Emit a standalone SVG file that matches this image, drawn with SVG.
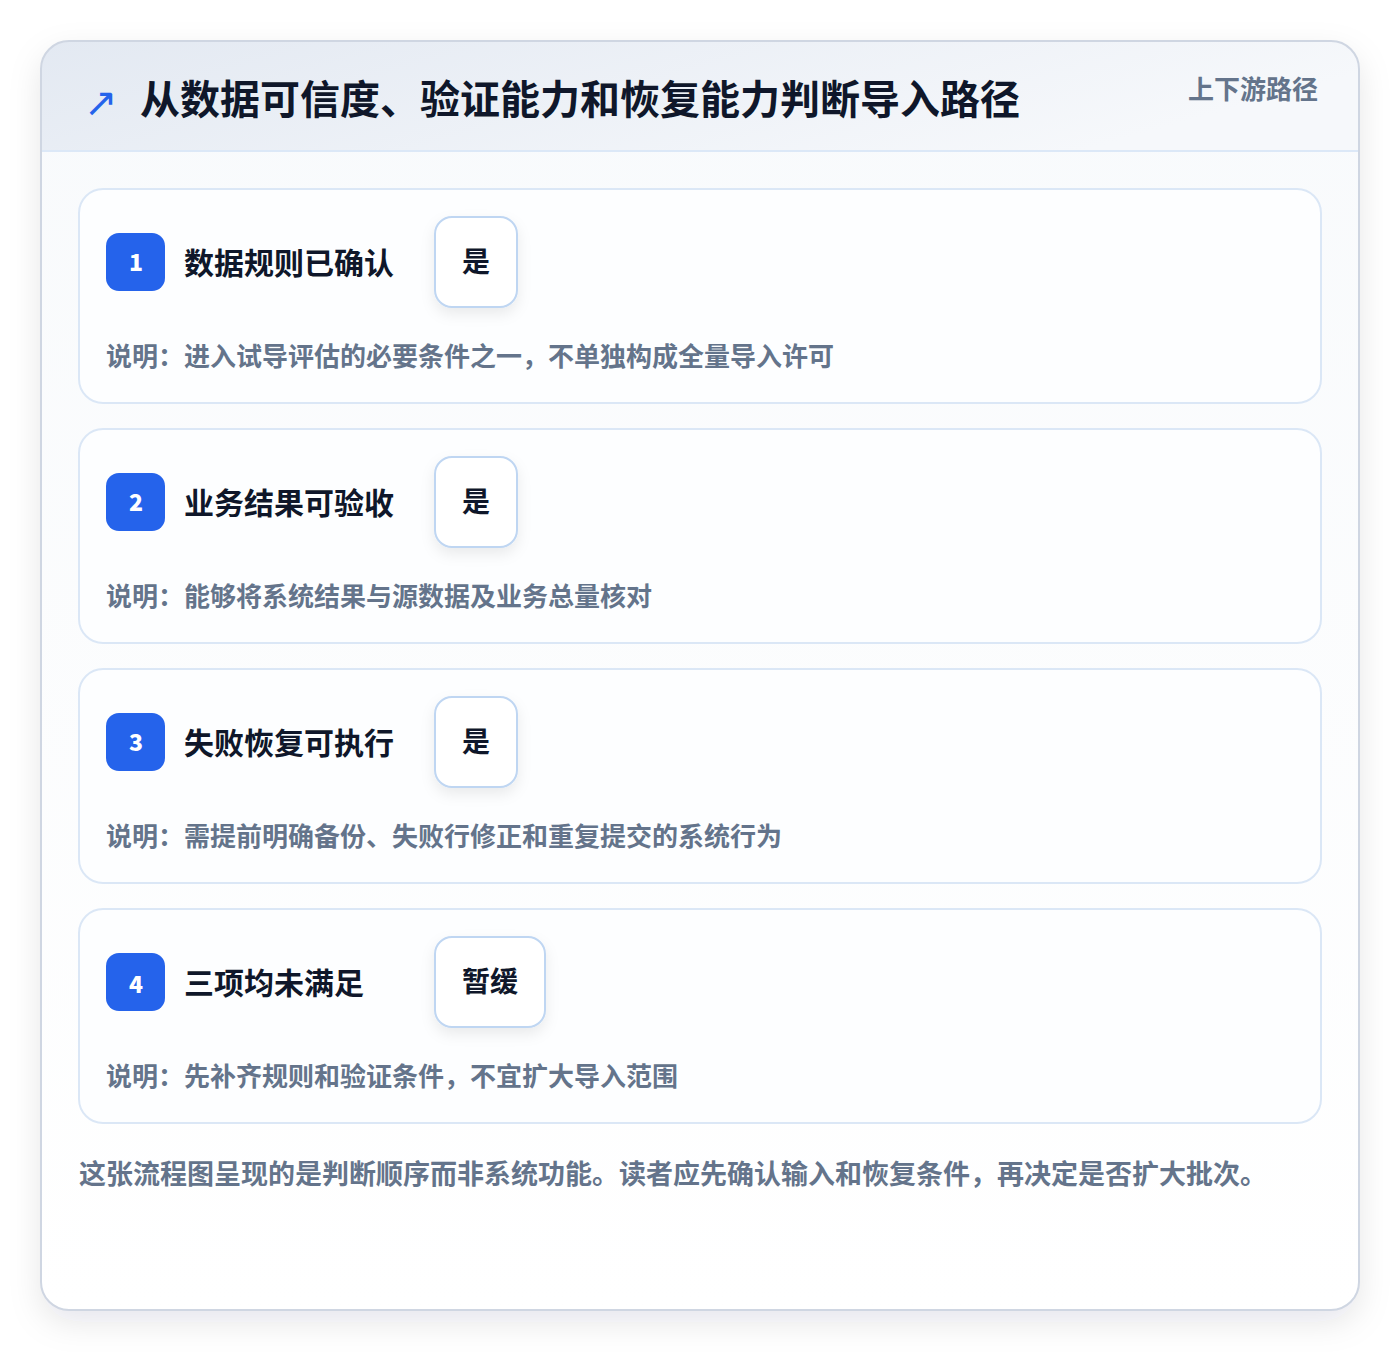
<svg xmlns="http://www.w3.org/2000/svg" width="1400" height="1352" viewBox="0 0 1400 1352">
<defs>
<linearGradient id="hdr" x1="0" y1="0" x2="1" y2="0.3">
<stop offset="0" stop-color="#e3e9f2"/>
<stop offset="1" stop-color="#f6f8fb"/>
</linearGradient>
<linearGradient id="body" x1="0" y1="0" x2="0" y2="1">
<stop offset="0" stop-color="#f8fafc"/>
<stop offset="1" stop-color="#ffffff"/>
</linearGradient>
<filter id="sh" x="-10%" y="-10%" width="120%" height="120%">
<feDropShadow dx="0" dy="12" stdDeviation="16" flood-color="#0f172a" flood-opacity="0.10"/>
</filter>
<filter id="psh" x="-40%" y="-40%" width="180%" height="180%">
<feDropShadow dx="0" dy="6" stdDeviation="7" flood-color="#0f172a" flood-opacity="0.08"/>
</filter>
<clipPath id="outerClip"><rect x="41" y="41" width="1318" height="1269" rx="28"/></clipPath>
<style>
.cjk{font-family:"Noto Sans CJK SC","Noto Sans",sans-serif;font-weight:700}
.card{fill:#fdfeff;stroke:#dbe7f6;stroke-width:2}
.badge{fill:#2563eb}
.num{fill:#ffffff;font-size:23px;font-weight:900;text-anchor:middle}
.ttl{fill:#0f172a;font-size:30px}
.pill{fill:#ffffff;stroke:#bfd6f2;stroke-width:2}
.pt{fill:#0f172a;font-size:28px;text-anchor:middle}
.desc{fill:#64748b;font-size:26px}
.foot{fill:#64748b;font-size:27px}
</style>
</defs>
<rect x="0" y="0" width="1400" height="1352" fill="#ffffff"/>
<g id="frame">
<rect x="41" y="41" width="1318" height="1269" rx="28" fill="url(#body)" filter="url(#sh)"/>
<g clip-path="url(#outerClip)">
<rect x="41" y="41" width="1318" height="110" fill="url(#hdr)"/>
<line x1="41" y1="151" x2="1359" y2="151" stroke="#dce8f7" stroke-width="2"/>
</g>
<rect x="41" y="41" width="1318" height="1269" rx="28" fill="none" stroke="#cfd6e2" stroke-width="2"/>
<text x="84" y="116" font-family="DejaVu Sans,sans-serif" font-size="40" fill="#2563eb">↗</text>
<text x="140" y="114" class="cjk" font-size="40" fill="#0f172a">从数据可信度、验证能力和恢复能力判断导入路径</text>
<text x="1318" y="99" class="cjk" font-size="26" fill="#64748b" text-anchor="end">上下游路径</text>
</g>
<g id="connectors"></g>
<g id="node1">
<rect class="card" x="79" y="189" width="1242" height="214" rx="24"/>
<rect class="badge" x="106" y="233" width="59" height="58" rx="13"/>
<text class="cjk num" x="136" y="271">1</text>
<text class="cjk ttl" x="184" y="274">数据规则已确认</text>
<rect class="pill" x="435" y="217" width="82" height="90" rx="17" filter="url(#psh)"/>
<text class="cjk pt" x="476" y="272">是</text>
<text class="cjk desc" x="106" y="366">说明：进入试导评估的必要条件之一，不单独构成全量导入许可</text>
</g>
<g id="node2">
<rect class="card" x="79" y="429" width="1242" height="214" rx="24"/>
<rect class="badge" x="106" y="473" width="59" height="58" rx="13"/>
<text class="cjk num" x="136" y="511">2</text>
<text class="cjk ttl" x="184" y="514">业务结果可验收</text>
<rect class="pill" x="435" y="457" width="82" height="90" rx="17" filter="url(#psh)"/>
<text class="cjk pt" x="476" y="512">是</text>
<text class="cjk desc" x="106" y="606">说明：能够将系统结果与源数据及业务总量核对</text>
</g>
<g id="node3">
<rect class="card" x="79" y="669" width="1242" height="214" rx="24"/>
<rect class="badge" x="106" y="713" width="59" height="58" rx="13"/>
<text class="cjk num" x="136" y="751">3</text>
<text class="cjk ttl" x="184" y="754">失败恢复可执行</text>
<rect class="pill" x="435" y="697" width="82" height="90" rx="17" filter="url(#psh)"/>
<text class="cjk pt" x="476" y="752">是</text>
<text class="cjk desc" x="106" y="846">说明：需提前明确备份、失败行修正和重复提交的系统行为</text>
</g>
<g id="node4">
<rect class="card" x="79" y="909" width="1242" height="214" rx="24"/>
<rect class="badge" x="106" y="953" width="59" height="58" rx="13"/>
<text class="cjk num" x="136" y="993">4</text>
<text class="cjk ttl" x="184" y="994">三项均未满足</text>
<rect class="pill" x="435" y="937" width="110" height="90" rx="17" filter="url(#psh)"/>
<text class="cjk pt" x="490" y="992">暂缓</text>
<text class="cjk desc" x="106" y="1086">说明：先补齐规则和验证条件，不宜扩大导入范围</text>
</g>
<g id="footer">
<text class="cjk foot" x="79" y="1184">这张流程图呈现的是判断顺序而非系统功能。读者应先确认输入和恢复条件，再决定是否扩大批次。</text>
</g>
</svg>
